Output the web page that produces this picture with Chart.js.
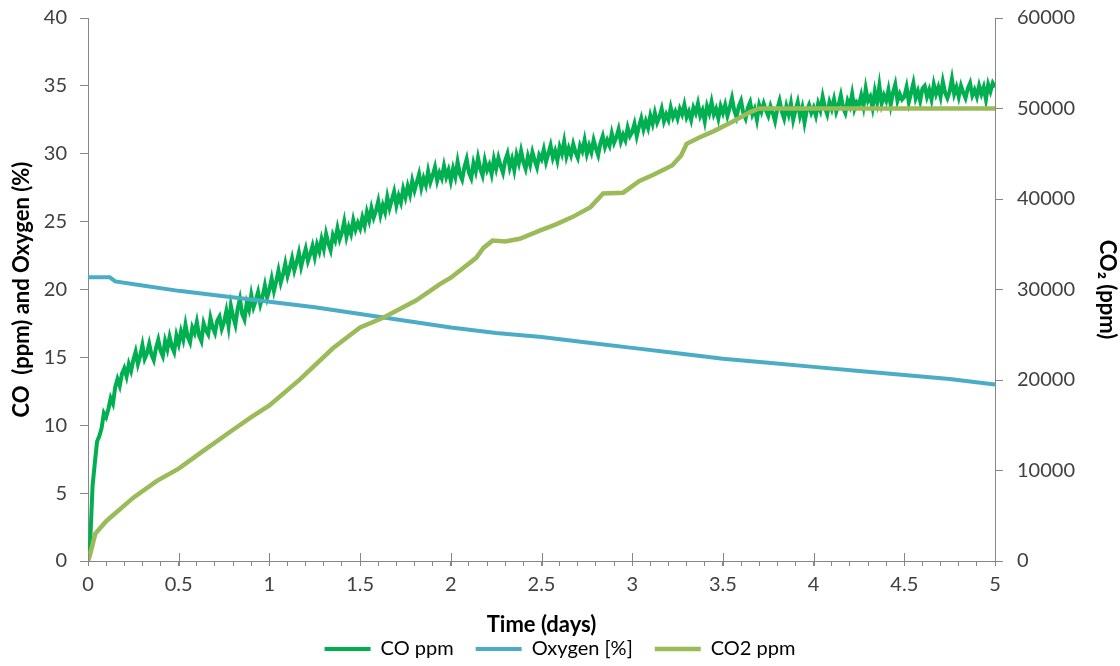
<!DOCTYPE html>
<html>
<head>
<meta charset="utf-8">
<script src="https://cdn.jsdelivr.net/npm/chart.js@4.4.1/dist/chart.umd.min.js"></script>
<style>
  html, body { margin: 0; padding: 0; background: #fff; }
  #wrap { width: 1120px; height: 666px; }
</style>
</head>
<body>
<div id="wrap"><canvas id="chart" width="1120" height="666"></canvas></div>
<script>
// sampling interval of the CO logger, in days
const STEP = 0.0125;

// CO (ppm), one reading every STEP days from t = 0 (20 readings per row = 0.25 day)
const coPpm = [
  0, 1.5, 5.5, 7.2, 8.8, 9.2, 9.8, 10.9, 10.6, 11.2, 12.0, 11.6, 12.8, 13.4, 12.9, 13.8, 14.2, 13.6, 14.5, 14.0,
  14.8, 15.4, 14.5, 15.1, 15.9, 14.9, 15.3, 16.0, 15.2, 14.8, 15.7, 16.3, 15.5, 15.1, 16.2, 15.6, 16.5, 15.8, 15.4, 16.6,
  16.0, 16.9, 16.3, 17.4, 16.5, 16.1, 17.2, 16.8, 17.6, 16.6, 16.2, 17.5, 17.0, 16.7, 17.9, 17.2, 16.8, 17.7, 18.0, 17.1,
  17.6, 18.4, 17.3, 18.8, 18.0, 17.4, 18.6, 19.3, 18.2, 17.8, 19.0, 18.5, 19.6, 18.7, 19.2, 19.8, 18.9, 19.5, 20.3, 19.4,
  20.0, 20.8, 19.9, 20.6, 21.4, 20.5, 21.1, 21.9, 21.0, 21.6, 22.3, 21.4, 22.0, 22.7, 21.7, 22.4, 23.0, 22.1, 22.6, 23.2,
  22.4, 23.3, 22.8, 23.7, 23.0, 24.1, 23.4, 22.9, 24.0, 23.6, 24.5, 23.7, 24.2, 25.0, 23.9, 24.6, 24.1, 25.1, 24.4, 24.9,
  24.5, 25.3, 24.7, 25.7, 25.1, 26.0, 25.3, 25.8, 26.5, 25.5, 26.2, 25.7, 26.8, 26.0, 26.6, 27.2, 26.2, 26.9, 26.4, 27.4,
  26.8, 27.6, 27.0, 28.0, 27.3, 27.9, 28.5, 27.5, 28.2, 27.7, 28.7, 27.9, 28.4, 29.0, 28.0, 28.6, 28.2, 29.1, 28.3, 28.8,
  28.0, 28.9, 28.3, 29.4, 28.5, 28.1, 29.0, 29.6, 28.6, 28.2, 29.3, 28.7, 29.7, 28.9, 28.4, 29.5, 28.8, 29.2, 28.5, 29.6,
  28.9, 29.7, 29.1, 28.6, 29.5, 30.0, 29.0, 29.6, 28.8, 29.9, 29.3, 30.2, 29.4, 28.9, 29.8, 29.2, 30.1, 29.5, 29.0, 29.9,
  29.6, 30.3, 29.4, 30.0, 30.6, 29.7, 30.2, 29.5, 30.5, 30.0, 30.9, 29.8, 30.4, 29.9, 30.7, 30.1, 29.7, 30.6, 30.2, 31.0,
  30.0, 30.6, 30.1, 31.0, 30.4, 29.9, 30.8, 31.3, 30.5, 31.0, 30.6, 31.5, 30.8, 31.2, 31.8, 30.9, 31.4, 31.0, 31.9, 31.3,
  31.6, 32.2, 31.3, 32.0, 32.6, 31.8, 32.4, 31.9, 32.8, 32.2, 33.0, 32.3, 32.7, 33.3, 32.4, 32.9, 32.5, 33.4, 32.7, 33.1,
  32.6, 33.3, 32.9, 33.6, 32.7, 33.1, 32.5, 33.4, 33.0, 33.7, 32.8, 33.2, 32.4, 33.5, 33.0, 33.8, 32.9, 33.3, 32.6, 33.5,
  33.0, 33.6, 32.8, 33.4, 34.1, 33.2, 32.7, 33.5, 33.9, 33.0, 32.6, 33.4, 33.8, 32.9, 33.3, 32.5, 33.6, 33.1, 33.7, 33.2,
  32.8, 33.5, 33.0, 32.4, 33.3, 33.9, 33.1, 32.6, 33.5, 32.9, 33.7, 32.5, 33.2, 33.8, 32.8, 33.4, 32.3, 33.2, 33.6, 33.0,
  33.4, 32.8, 33.7, 33.2, 34.2, 33.4, 32.9, 33.8, 33.3, 34.0, 33.1, 33.6, 34.3, 33.4, 33.0, 33.9, 33.5, 34.4, 33.3, 33.8,
  33.6, 34.3, 33.5, 34.8, 33.9, 34.2, 33.4, 34.6, 33.8, 35.0, 33.7, 34.3, 33.9, 34.7, 33.6, 34.5, 35.1, 33.9, 34.4, 34.0,
  34.2, 34.9, 33.8, 34.5, 35.2, 34.1, 34.6, 33.9, 34.8, 35.0, 34.2, 34.7, 34.0, 35.1, 34.4, 34.9, 34.2, 35.3, 34.5, 34.1,
  34.6, 35.5, 34.4, 34.9, 34.2, 35.0, 34.5, 34.1, 34.8, 35.2, 34.3, 34.7, 34.2, 35.0, 34.4, 34.9, 34.0, 35.1, 34.6, 35.2,
  34.9
];

// Oxygen (%)
const o2Days = [0, 0.12, 0.15, 0.3, 0.5, 0.75, 1.0, 1.25, 1.5, 1.75, 2.0, 2.25, 2.5,
  2.75, 3.0, 3.25, 3.5, 3.75, 4.0, 4.25, 4.5, 4.75, 5.0];
const o2Pct = [20.9, 20.9, 20.6, 20.3, 19.9, 19.5, 19.1, 18.7, 18.2, 17.7, 17.2, 16.8, 16.5,
  16.1, 15.7, 15.3, 14.9, 14.6, 14.3, 14.0, 13.7, 13.4, 13.0];

// CO2 (ppm), right axis
const co2Days = [0, 0.01, 0.04, 0.1, 0.25, 0.38, 0.5, 0.62, 0.8, 0.9, 1.0, 1.17, 1.35, 1.5,
  1.63, 1.81, 1.94, 2.0, 2.14, 2.18, 2.23, 2.3, 2.38, 2.49, 2.58, 2.67, 2.77, 2.84, 2.95,
  3.04, 3.12, 3.22, 3.27, 3.3, 3.37, 3.45, 3.55, 3.65, 3.7, 4.0, 4.5, 5.0];
const co2Ppm = [0, 600, 3000, 4400, 7000, 8850, 10200, 11950, 14500, 15900, 17200, 20100, 23500, 25800,
  26900, 28800, 30600, 31300, 33500, 34600, 35400, 35300, 35600, 36500, 37200, 38000, 39100, 40600, 40700,
  42000, 42700, 43700, 44800, 46100, 46800, 47500, 48500, 49600, 50000, 50000, 50000, 50000];

const xTickLabels = ['0', '0.5', '1', '1.5', '2', '2.5', '3', '3.5', '4', '4.5', '5'];
const leftTicks = [0, 5, 10, 15, 20, 25, 30, 35, 40];
const rightTicks = [0, 10000, 20000, 30000, 40000, 50000, 60000];

const FONT = 'Lato, "Open Sans", sans-serif';
const AXIS = '#868686';
const TICKTXT = '#404040';

const coPoints = coPpm.map((v, i) => ({ x: i * STEP, y: v }));
const o2Points = o2Days.map((d, i) => ({ x: d, y: o2Pct[i] }));
const co2Points = co2Days.map((d, i) => ({ x: d, y: co2Ppm[i] }));

// Excel-style major tick marks that cross the x axis
const majorTicks = {
  id: 'majorTicks',
  afterDatasetsDraw(chart) {
    const xs = chart.scales.x;
    const ctx = chart.ctx;
    ctx.save();
    ctx.strokeStyle = AXIS;
    ctx.lineWidth = 1;
    xTickLabels.forEach(t => {
      const px = Math.round(xs.getPixelForValue(parseFloat(t))) + 0.5;
      ctx.beginPath();
      ctx.moveTo(px, xs.top - 8);
      ctx.lineTo(px, xs.top + 5);
      ctx.stroke();
    });
    ctx.restore();
  }
};

// fixed box sizes so the plot area lands where the original has it
const fixWidth = w => s => { s.width = w; s.paddingTop = 0; s.paddingBottom = 0; };

new Chart(document.getElementById('chart'), {
  type: 'line',
  data: {
    datasets: [
      { label: 'CO ppm', data: coPoints, borderColor: '#00B050', backgroundColor: '#00B050',
        borderWidth: 4, pointRadius: 0, yAxisID: 'y', order: 3 },
      { label: 'Oxygen [%]', data: o2Points, borderColor: '#4BACC6', backgroundColor: '#4BACC6',
        borderWidth: 4, pointRadius: 0, yAxisID: 'y', order: 2 },
      { label: 'CO2 ppm', data: co2Points, borderColor: '#9BBB59', backgroundColor: '#9BBB59',
        borderWidth: 4.5, pointRadius: 0, yAxisID: 'y2', order: 1 }
    ]
  },
  options: {
    responsive: false,
    animation: false,
    layout: { padding: { top: 18, left: 0, right: 0, bottom: -3 } },
    plugins: {
      tooltip: { enabled: false },
      legend: {
        position: 'bottom',
        labels: {
          font: { family: FONT, size: 20 },
          color: '#000',
          usePointStyle: true,
          pointStyle: 'line',
          pointStyleWidth: 46,
          boxHeight: 4,
          padding: 22,
          sort: (a, b) => a.datasetIndex - b.datasetIndex
        }
      }
    },
    scales: {
      x: {
        type: 'linear',
        min: 0, max: 5,
        afterFit: s => { s.height = 56; s.paddingLeft = 0; s.paddingRight = 0; },
        border: { color: AXIS, width: 1 },
        grid: { drawOnChartArea: false, tickLength: 5, color: AXIS },
        ticks: {
          stepSize: 0.1,
          autoSkip: false,
          maxRotation: 0,
          padding: 7,
          color: TICKTXT,
          font: { family: FONT, size: 20 },
          callback: v => {
            const k = Math.round(v * 10);
            return k % 5 === 0 ? xTickLabels[k / 5] : '';
          }
        },
        title: { display: true, text: 'Time (days)', color: '#000',
          font: { family: FONT, size: 22, weight: 'bold' }, padding: { top: 0, bottom: -21 } }
      },
      y: {
        position: 'left',
        min: 0, max: 40,
        afterFit: fixWidth(88),
        afterBuildTicks: s => { s.ticks = leftTicks.map(v => ({ value: v })); },
        border: { color: AXIS, width: 1 },
        grid: { drawOnChartArea: false, tickLength: 8, color: AXIS },
        ticks: { color: TICKTXT, padding: 13, font: { family: FONT, size: 20 } },
        title: { display: true, text: 'CO  (ppm) and Oxygen (%)', color: '#000',
          font: { family: FONT, size: 22, weight: 'bold' }, padding: { top: 9, bottom: 0 } }
      },
      y2: {
        position: 'right',
        min: 0, max: 60000,
        afterFit: fixWidth(125),
        afterBuildTicks: s => { s.ticks = rightTicks.map(v => ({ value: v })); },
        border: { color: AXIS, width: 1 },
        grid: { drawOnChartArea: false, tickLength: 8, color: AXIS },
        ticks: { color: TICKTXT, padding: 14, font: { family: FONT, size: 20 },
          callback: v => String(v) },
        title: { display: true, text: 'CO\u2082 (ppm)', color: '#000',
          font: { family: FONT, size: 22, weight: 'bold' }, padding: { top: 0, bottom: 0 } }
      }
    }
  },
  plugins: [majorTicks]
});
</script>
</body>
</html>
